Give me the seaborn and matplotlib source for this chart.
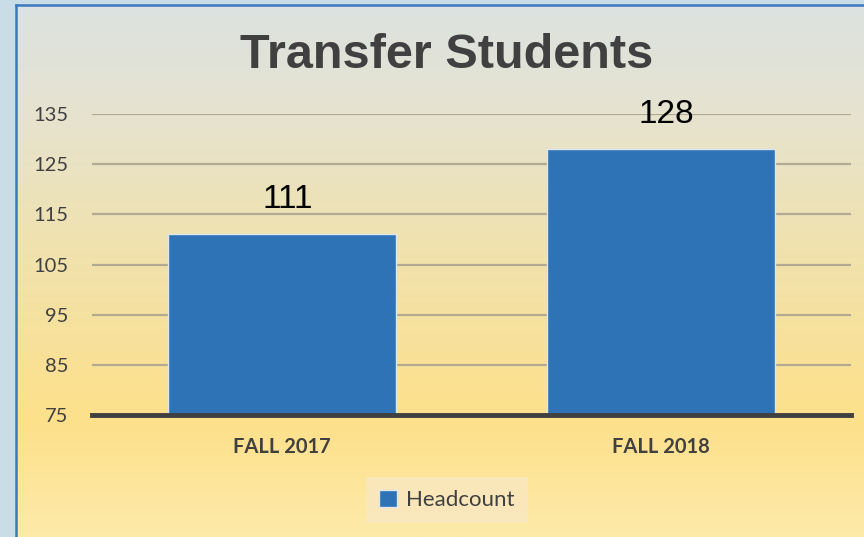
import matplotlib
matplotlib.use("Agg")
import matplotlib.pyplot as plt
import matplotlib.patches as mpatches
import numpy as np
import pandas as pd
import seaborn as sns

# chart data
categories = ["FALL 2017", "FALL 2018"]
headcount = [111, 128]
y_ticks = [75, 85, 95, 105, 115, 125, 135]
series_name = "Headcount"

df = pd.DataFrame({"term": categories, "count": headcount})

sns.set_theme(style="white")
plt.rcParams["font.family"] = ["Lato", "DejaVu Sans"]

W, H = 864, 537
fig = plt.figure(figsize=(W / 100, H / 100), dpi=100)
fig.patch.set_facecolor("#C9DDE8")

# panel with vertical gradient background (top row first)
panel = fig.add_axes([16 / W, 0, 1 - 16 / W, (H - 5) / H])
stops = [(0.0, "#DCE2E0"), (0.18, "#E5E3D2"), (0.45, "#F0E2AF"),
         (0.78, "#FDE08A"), (1.0, "#FEEAA9")]
pos = np.linspace(0, 1, 300)
cols = np.array([matplotlib.colors.to_rgb(c) for _, c in stops])
grad = np.stack([np.interp(pos, [s for s, _ in stops], cols[:, i]) for i in range(3)], axis=1)
panel.imshow(grad[:, None, :], aspect="auto", extent=[0, 1, 0, 1], origin="upper")
panel.set_xlim(0, 1)
panel.set_ylim(0, 1)
panel.set_xticks([])
panel.set_yticks([])
for side, sp in panel.spines.items():
    sp.set_visible(side in ("left", "top"))
    sp.set_color("#3A78C0")
    sp.set_linewidth(1.8)

ax = fig.add_axes([92 / W, (H - 415) / H, (851 - 92) / W, (415 - 114) / H])
ax.patch.set_alpha(0)
sns.barplot(data=df, x="term", y="count", color="#2E73B5", saturation=1,
            width=0.6, edgecolor="#DDE6EE", linewidth=1.0, ax=ax, zorder=3)
ax.set_ylim(75, 135)
ax.set_xlim(-0.5, 1.5)
ax.set_yticks(y_ticks)
ax.yaxis.grid(True, color="#B2AA92", linewidth=1.6, zorder=0)
ax.set_axisbelow(True)
for side in ("left", "right", "top"):
    ax.spines[side].set_visible(False)
ax.spines["bottom"].set_color("#404040")
ax.spines["bottom"].set_linewidth(3.5)
ax.spines["bottom"].set_zorder(4)
ax.tick_params(axis="both", length=0)
ax.tick_params(axis="y", pad=17, labelsize=14.5, labelcolor="#404040")
ax.tick_params(axis="x", pad=16, labelsize=14.5, labelcolor="#404040")
for lbl in ax.get_xticklabels():
    lbl.set_fontweight("bold")
ax.set_xlabel("")
ax.set_ylabel("")

# value labels, sitting a little right of bar centre as in the original
for i, v in enumerate(headcount):
    ax.annotate(str(v), (i, v), xytext=(4, 14), textcoords="offset points",
                ha="center", va="bottom", fontsize=24, color="black",
                family=["Liberation Sans", "DejaVu Sans"])

fig.text(447 / W, 1 - 55 / H, "Transfer Students", ha="center", va="center",
         fontsize=35, fontweight="bold", color="#404040",
         family=["Liberation Sans", "DejaVu Sans"])

handle = mpatches.Patch(facecolor="#2E73B5", edgecolor="#DDE6EE", label=series_name)
leg = fig.legend(handles=[handle], loc="center", bbox_to_anchor=(447 / W, 1 - 500 / H),
                 frameon=True, fontsize=16, handlelength=0.8, handleheight=0.8,
                 handletextpad=0.4, borderpad=0.6, fancybox=False)
leg.get_frame().set_facecolor("#F8E8C2")
leg.get_frame().set_edgecolor("none")
for t in leg.get_texts():
    t.set_color("#404040")

fig.savefig("out.png", dpi=100)
